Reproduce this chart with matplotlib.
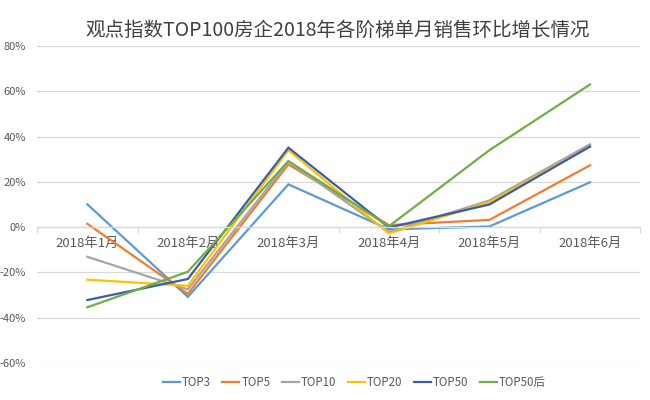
import numpy as np
import matplotlib
matplotlib.use('Agg')
import matplotlib.pyplot as plt
from matplotlib.ticker import FuncFormatter, FixedLocator

plt.rcParams['font.family'] = ['Noto Sans CJK SC', 'DejaVu Sans']

# data (month-on-month change, %)
months = ['2018年1月', '2018年2月', '2018年3月', '2018年4月', '2018年5月', '2018年6月']
series_names = ['TOP3', 'TOP5', 'TOP10', 'TOP20', 'TOP50', 'TOP50后']
top3 = [10.1, -30.8, 18.9, -1.0, 0.3, 19.8]
top5 = [1.5, -29.5, 27.7, 0.9, 3.2, 27.3]
top10 = [-13.1, -27.5, 29.0, -2.2, 11.8, 36.6]
top20 = [-23.2, -25.9, 34.0, -2.8, 11.0, 35.5]
top50 = [-32.2, -22.9, 35.1, -0.2, 10.0, 35.6]
top50_after = [-35.4, -19.7, 29.2, 0.4, 34.0, 63.0]
series_values = [top3, top5, top10, top20, top50, top50_after]
colors = ['#5B9BD5', '#ED7D31', '#A5A5A5', '#FFC000', '#3B5DA6', '#70AD47']

fig = plt.figure(figsize=(6.5, 4.0), dpi=100)
ax = fig.add_axes([0.057, 0.0925, 0.928, 0.7925])

x = np.arange(len(months))
for name, vals, c in zip(series_names, series_values, colors):
	ax.plot(x, vals, color=c, lw=1.6, label=name, solid_joinstyle='miter')

ax.set_xlim(-0.5, len(months) - 0.5)
ax.set_ylim(-60, 80)
ax.set_yticks(np.arange(-60, 81, 20))
ax.yaxis.set_major_formatter(FuncFormatter(lambda v, p: '{:d}%'.format(int(round(v)))))
ax.grid(axis='y', color='#D9D9D9', lw=0.9)
ax.set_axisbelow(True)

# category axis sits on the 0 line
for s in ['top', 'right', 'left']:
	ax.spines[s].set_visible(False)
ax.spines['bottom'].set_position(('data', 0))
ax.spines['bottom'].set_color('#D9D9D9')
ax.spines['bottom'].set_linewidth(0.9)
ax.set_xticks(x)
ax.set_xticklabels(months)
ax.xaxis.set_minor_locator(FixedLocator(np.arange(-0.5, len(months), 1.0)))
ax.tick_params(axis='x', which='major', length=0, pad=7, labelsize=9.5, labelcolor='#595959')
ax.tick_params(axis='x', which='minor', length=4, color='#D9D9D9', width=0.9)
ax.tick_params(axis='y', length=0, pad=8, labelsize=8, labelcolor='#595959')

fig.text(0.52, 0.925, '观点指数TOP100房企2018年各阶梯单月销售环比增长情况',
	ha='center', va='center', fontsize=14, color='#404040')

leg = fig.legend(loc='center', bbox_to_anchor=(0.545, 0.043), ncol=6, frameon=False,
	fontsize=8.3, handlelength=1.5, handletextpad=0.15, columnspacing=1.0)
for t in leg.get_texts():
	t.set_color('#595959')

fig.savefig('out.png', dpi=100)
